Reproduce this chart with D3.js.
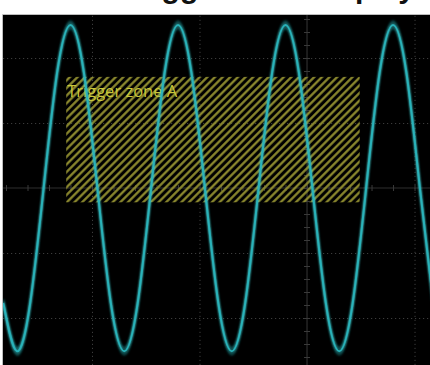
<!DOCTYPE html>
<html>
<head>
<meta charset="utf-8">
<script src="https://d3js.org/d3.v7.min.js"></script>
<style>
  html, body { margin: 0; padding: 0; background: #fff; }
  svg { display: block; }
</style>
</head>
<body>
<div class="svg-container"></div>
<script>
// time in divisions (0 = centre of screen), voltage in divisions
const sampleTime = [-2.825, -2.7, -2.575, -2.45, -2.325, -2.2, -2.075, -1.95, -1.825, -1.7,
  -1.575, -1.45, -1.325, -1.2, -1.075, -0.95, -0.825, -0.7, -0.575, -0.45,
  -0.325, -0.2, -0.075, 0.05, 0.175, 0.3, 0.425, 0.55, 0.675, 0.8,
  0.925, 1.05, 1.175];
const sampleVolts = [-1.77, -2.51, -1.77, 0, 1.77, 2.51, 1.77, 0, -1.77, -2.51,
  -1.77, 0, 1.77, 2.51, 1.77, 0, -1.77, -2.51, -1.77, 0,
  1.77, 2.51, 1.77, 0, -1.77, -2.51, -1.77, 0, 1.77, 2.51,
  1.77, 0, -1.77];
const gridTime = [-2, -1, 1];
const gridVolts = [-2, -1, 1, 2];
const zoneTime = [-2.24, 0.49];
const zoneVolts = [-0.22, 1.71];
const zoneLabel = "Trigger zone A";
const titleText = "Trigger zone display";

const width = 430, height = 365;
const screenTop = 15, screenLeft = 3;

let svg = d3.select(".svg-container")
  .append("svg")
  .attr("width", width)
  .attr("height", height);

let defs = svg.append("defs");
defs.append("filter").attr("id", "glow")
  .attr("x", "-20%").attr("y", "-20%").attr("width", "140%").attr("height", "140%")
  .append("feGaussianBlur").attr("stdDeviation", 0.9);

let hatch = defs.append("pattern")
  .attr("id", "hatch")
  .attr("patternUnits", "userSpaceOnUse")
  .attr("width", 5.4).attr("height", 5.4)
  .attr("patternTransform", "rotate(45)");
hatch.append("line")
  .attr("x1", 1.3).attr("y1", 0).attr("x2", 1.3).attr("y2", 5.4)
  .attr("stroke", "#928f30").attr("stroke-width", 2.2);

let x = d3.scaleLinear().domain([-2.828, 1.144]).range([screenLeft, width]);
let y = d3.scaleLinear().domain([-2.723, 2.662]).range([height, screenTop]);

// title, mostly cut off by the top of the picture
svg.append("text")
  .attr("x", 415).attr("y", -2)
  .attr("text-anchor", "end")
  .style("font-family", "Liberation Sans, Arial, sans-serif")
  .style("font-weight", "bold")
  .style("font-size", "30px")
  .attr("fill", "#111")
  .text(titleText);

// screen
svg.append("rect")
  .attr("x", screenLeft).attr("y", screenTop)
  .attr("width", width - screenLeft).attr("height", height - screenTop)
  .attr("fill", "#000");
svg.append("path")
  .attr("d", `M${screenLeft - 0.5},${height} V${screenTop - 0.5} H${width}`)
  .attr("fill", "none").attr("stroke", "#bdbdbd").attr("stroke-width", 1);

let screen = svg.append("g").attr("clip-path", "url(#screenClip)");
defs.append("clipPath").attr("id", "screenClip")
  .append("rect")
  .attr("x", screenLeft).attr("y", screenTop)
  .attr("width", width - screenLeft).attr("height", height - screenTop);

// dotted grid
screen.append("g")
  .attr("transform", "translate(0," + height + ")")
  .call(d3.axisBottom(x).tickValues(gridTime).tickSize(-(height - screenTop)).tickFormat(""))
  .call(g => g.select(".domain").remove())
  .call(g => g.selectAll("line").attr("stroke", "#3c3c3c").attr("stroke-dasharray", "1.2,2.8"));
screen.append("g")
  .attr("transform", "translate(" + screenLeft + ",0)")
  .call(d3.axisLeft(y).tickValues(gridVolts).tickSize(-(width - screenLeft)).tickFormat(""))
  .call(g => g.select(".domain").remove())
  .call(g => g.selectAll("line").attr("stroke", "#3c3c3c").attr("stroke-dasharray", "1.2,2.8"));

// centre axes with minor ticks
screen.append("line")
  .attr("x1", screenLeft).attr("x2", width)
  .attr("y1", y(0)).attr("y2", y(0))
  .attr("stroke", "#2e2e2e").attr("stroke-width", 1.2);
screen.append("line")
  .attr("x1", x(0)).attr("x2", x(0))
  .attr("y1", screenTop).attr("y2", height)
  .attr("stroke", "#2e2e2e").attr("stroke-width", 1.2);
screen.append("g")
  .attr("transform", "translate(0," + (y(0) + 3) + ")")
  .call(d3.axisTop(x).tickValues(d3.range(-14, 6).map(d => d / 5)).tickSize(6).tickFormat(""))
  .call(g => g.select(".domain").remove())
  .call(g => g.selectAll("line").attr("stroke", "#3a3a3a"));
screen.append("g")
  .attr("transform", "translate(" + (x(0) - 3) + ",0)")
  .call(d3.axisRight(y).tickValues(d3.range(-13, 14).map(d => d / 5)).tickSize(6).tickFormat(""))
  .call(g => g.select(".domain").remove())
  .call(g => g.selectAll("line").attr("stroke", "#3a3a3a"));

// trigger zone
screen.append("rect")
  .attr("x", x(zoneTime[0]))
  .attr("y", y(zoneVolts[1]))
  .attr("width", x(zoneTime[1]) - x(zoneTime[0]))
  .attr("height", y(zoneVolts[0]) - y(zoneVolts[1]))
  .attr("fill", "url(#hatch)");
screen.append("text")
  .attr("x", x(zoneTime[0]) + 1)
  .attr("y", y(zoneVolts[1]) + 20)
  .style("font-family", "Open Sans, sans-serif")
  .style("font-size", "16.5px")
  .attr("fill", "#c8c63a")
  .text(zoneLabel);

// trace
let trace = sampleTime.map((t, i) => ({ t: t, v: sampleVolts[i] }));
let line = d3.line()
  .x(d => x(d.t))
  .y(d => y(d.v))
  .curve(d3.curveNatural);

// persistence: jittered copies make the flat peaks thick and bright
let glow = screen.append("g").attr("filter", "url(#glow)");
d3.range(-4, 5).forEach(dy => {
  glow.append("path")
    .datum(trace)
    .attr("transform", "translate(0," + dy + ")")
    .attr("d", line)
    .attr("fill", "none")
    .attr("stroke", "#1fb6bc")
    .attr("stroke-opacity", 0.25)
    .attr("stroke-width", 1.8)
    .style("mix-blend-mode", "screen");
});
screen.append("path")
  .datum(trace)
  .attr("d", line)
  .attr("fill", "none")
  .attr("stroke", "#1aaab2")
  .attr("stroke-width", 2);
screen.append("path")
  .datum(trace)
  .attr("d", line)
  .attr("fill", "none")
  .attr("stroke", "#9ff0f0")
  .attr("stroke-opacity", 0.4)
  .attr("stroke-width", 1)
  .attr("filter", "url(#glow)");
</script>
</body>
</html>
